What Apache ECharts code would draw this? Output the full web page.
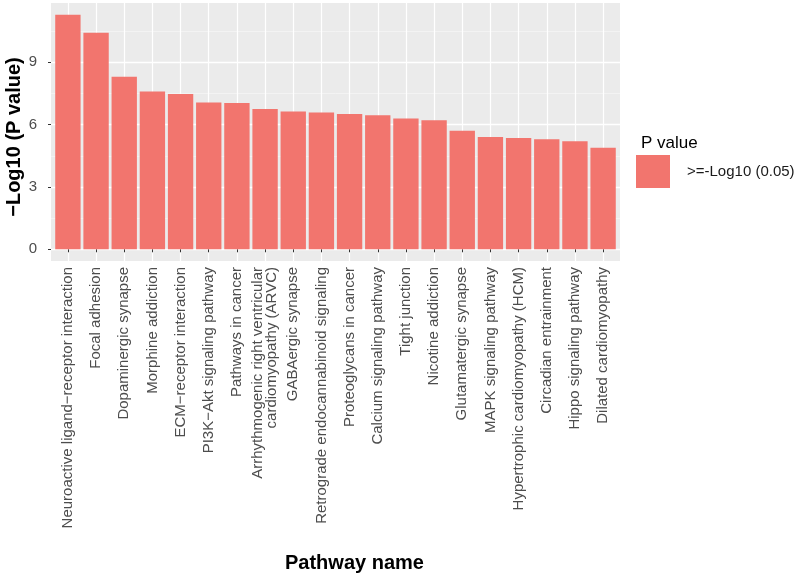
<!DOCTYPE html>
<html>
<head>
<meta charset="utf-8">
<script src="https://cdn.jsdelivr.net/npm/echarts@6/dist/echarts.min.js"></script>
<style>
  html, body { margin: 0; padding: 0; background: #fff; }
  #chart { width: 800px; height: 575px; }
</style>
</head>
<body>
<div id="chart"></div>
<script>
const pathways = [
  "Neuroactive ligand\u2212receptor interaction",
  "Focal adhesion",
  "Dopaminergic synapse",
  "Morphine addiction",
  "ECM\u2212receptor interaction",
  "PI3K\u2212Akt signaling pathway",
  "Pathways in cancer",
  "Arrhythmogenic right ventricular\ncardiomyopathy (ARVC)",
  "GABAergic synapse",
  "Retrograde endocannabinoid signaling",
  "Proteoglycans in cancer",
  "Calcium signaling pathway",
  "Tight junction",
  "Nicotine addiction",
  "Glutamatergic synapse",
  "MAPK signaling pathway",
  "Hypertrophic cardiomyopathy (HCM)",
  "Circadian entrainment",
  "Hippo signaling pathway",
  "Dilated cardiomyopathy",
];
const negLogP = [11.29, 10.42, 8.31, 7.59, 7.48, 7.06, 7.04, 6.75, 6.63, 6.58,
  6.51, 6.45, 6.29, 6.21, 5.70, 5.41, 5.36, 5.30, 5.20, 4.89];
const yTicks = [0, 3, 6, 9];
const yMinor = [1.5, 4.5, 7.5, 10.5];
const seriesName = ">=-Log10 (0.05)";

// ggplot-like positions: categories at 1..n, 0.6 padding each side
const xPos = pathways.map((_, i) => i + 1);
const yMax = Math.max(...negLogP);

const font = "'Liberation Sans', Arial, sans-serif";
const barColor = "#F2756E";

const chart = echarts.init(document.getElementById("chart"), null, { renderer: "canvas" });

chart.setOption({
  animation: false,
  textStyle: { fontFamily: font },
  title: [
    {
      text: "P value", left: 636, top: 130,
      textStyle: { fontFamily: font, fontSize: 17, fontWeight: "normal", color: "#000" },
    },
    {
      text: "Pathway name", left: 280, top: 548,
      textStyle: { fontFamily: font, fontSize: 20, fontWeight: "bold", color: "#000" },
    },
  ],
  legend: {
    left: 636, top: 155, padding: 0,
    icon: "rect", itemWidth: 34, itemHeight: 33,
    textStyle: { fontFamily: font, fontSize: 15, color: "#1a1a1a", padding: [0, 0, 0, 12] },
    data: [seriesName],
  },
  grid: {
    left: 51, right: 180, top: 3, bottom: 314,
    outerBoundsMode: "none",
    containLabel: false,
    show: true, backgroundColor: "#EBEBEB", borderWidth: 0,
  },
  xAxis: {
    type: "value",
    min: 0.4,
    max: pathways.length + 0.6,
    axisLine: { show: false },
    axisTick: { show: true, length: 3, customValues: xPos, lineStyle: { color: "#333", width: 1 } },
    axisLabel: {
      customValues: xPos,
      rotate: 90,
      margin: 6,
      fontFamily: font,
      fontSize: 15,
      color: "#4D4D4D",
      lineHeight: 14,
      formatter: (v) => pathways[Math.round(v) - 1] || "",
    },
    splitLine: { show: true, lineStyle: { color: "#FFFFFF", width: 1.2 } },
  },
  yAxis: [
    {
      type: "value",
      min: -0.05 * yMax,
      max: yMax * 1.05,
      name: "\u2212Log10 (P value)",
      nameLocation: "middle",
      nameGap: 27,
      nameMoveOverlap: false,
      nameTextStyle: { fontFamily: font, fontSize: 20, fontWeight: "bold", color: "#000", padding: [0, 0, 0, -10] },
      axisLine: { show: false },
      axisTick: { show: true, length: 3, customValues: yTicks, lineStyle: { color: "#333", width: 1 } },
      axisLabel: { customValues: yTicks, margin: 14, fontFamily: font, fontSize: 15, color: "#4D4D4D" },
      splitLine: { show: true, lineStyle: { color: "#FFFFFF", width: 1.3 } },
    },
    {
      type: "value",
      min: -0.05 * yMax,
      max: yMax * 1.05,
      position: "left",
      axisLine: { show: false },
      axisTick: { show: false, customValues: yMinor },
      axisLabel: { show: false, customValues: yMinor },
      splitLine: { show: true, lineStyle: { color: "#F7F7F7", width: 0.7 } },
    },
  ],
  series: [
    {
      name: seriesName,
      type: "bar",
      yAxisIndex: 0,
      barWidth: "90%",
      itemStyle: { color: barColor },
      data: negLogP.map((v, i) => [xPos[i], v]),
      z: 3,
    },
  ],
});
</script>
</body>
</html>
